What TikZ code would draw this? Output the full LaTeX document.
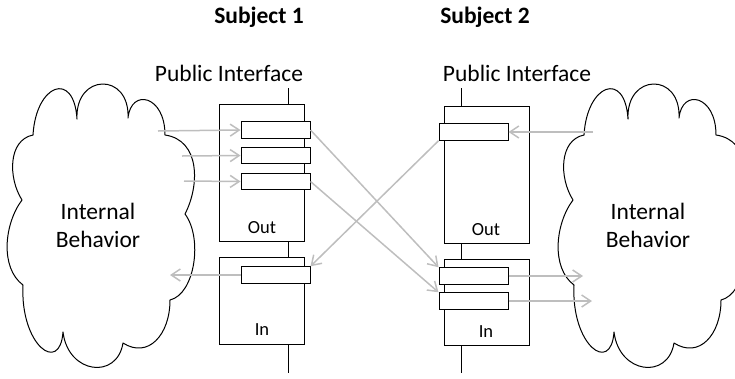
\documentclass[tikz,border=0pt]{standalone}
\usepackage{fontspec}
\setmainfont{Carlito}
\usetikzlibrary{arrows.meta}
\definecolor{flowgray}{RGB}{190,190,190}
\tikzset{
  frame/.style={draw, line width=1pt, fill=white, minimum width=85pt, inner sep=0pt},
  port/.style={draw, line width=1pt, fill=white, minimum width=69pt, minimum height=16.5pt, inner sep=0pt},
  flow/.style={draw=flowgray, line width=1.5pt, -{Straight Barb[length=9pt,width=12pt]}},
  wire/.style={draw, line width=1pt},
  cloudline/.style={draw, line width=1pt, line join=round},
  bigtext/.style={font=\fontsize{23.5}{28}\selectfont, align=center, inner sep=0pt},
  smalltext/.style={font=\fontsize{18.5}{22}\selectfont, inner sep=0pt},
  titletext/.style={font=\fontsize{23.5}{28}\selectfont\bfseries, inner sep=0pt},
  % ten-bump cloud outline, drawn clockwise from its upper-left dent
  behaviorcloud/.pic={
    \draw[cloudline]
      (33,135) .. controls (36,84) and (74,70) .. (77,119)
      .. controls (75,73) and (130,72) .. (128,118)
      .. controls (131,88) and (165,95) .. (165,135)
      .. controls (200,140) and (200,185) .. (185,214)
      .. controls (203,238) and (195,294) .. (170,300)
      .. controls (170,335) and (148,359) .. (123,343)
      .. controls (117,380) and (68,374) .. (63,332)
      .. controls (60,375) and (20,345) .. (23,285)
      .. controls (0,268) and (4,224) .. (22,200)
      .. controls (8,178) and (8,140) .. (33,135) -- cycle;
  }
}
\begin{document}
\begin{tikzpicture}[x=1pt, y=-1pt]
\clip (0,0) rectangle (735,378);

% titles and interface labels
\node[titletext, anchor=base] (t1) at (259,23) {Subject 1};
\node[titletext, anchor=base] (t2) at (485,23) {Subject 2};
\node[bigtext, anchor=base] (pi1) at (229,81) {Public Interface};
\node[bigtext, anchor=base] (pi2) at (517,81) {Public Interface};

% internal behaviour clouds
\pic at (0,0) {behaviorcloud};
\pic at (551,0) {behaviorcloud};
\node[bigtext] (ib1) at (98,225) {Internal\\Behavior};
\node[bigtext] (ib2) at (648,225) {Internal\\Behavior};

% interface spines
\coordinate (s1t) at (288,88);
\coordinate (s1b) at (288,373);
\coordinate (s2t) at (461,88);
\coordinate (s2b) at (461,373);
\draw[wire] (s1t) -- (s1b);
\draw[wire] (s2t) -- (s2b);

% subject 1 frames
\node[frame, minimum height=137pt] (o1) at (261.5,172.5) {};
\node[frame, minimum height=87pt] (i1) at (261.5,300.5) {};
\node[smalltext] (lo1) at (262,228) {Out};
\node[smalltext] (li1) at (262,330) {In};
\node[port] (p11) at (275.5,130) {};
\node[port] (p12) at (275.5,155.5) {};
\node[port] (p13) at (275.5,181.5) {};
\node[port] (p14) at (275.5,275) {};

% subject 2 frames
\node[frame, minimum height=137pt] (o2) at (486.5,174.5) {};
\node[frame, minimum height=86pt] (i2) at (486.5,302) {};
\node[smalltext] (lo2) at (486,230) {Out};
\node[smalltext] (li2) at (486,332) {In};
\node[port] (p21) at (473.5,132) {};
\node[port] (p23) at (473.5,276) {};
\node[port] (p24) at (473.5,301) {};

% flows inside subject 1
\coordinate (a1) at (158,131);
\coordinate (a2) at (182,156);
\coordinate (a3) at (184,181);
\coordinate (a4) at (170,275);
\draw[flow] (a1) -- (p11.west);
\draw[flow] (a2) -- (p12.west);
\draw[flow] (a3) -- (p13.west);
\draw[flow] (p14.west) -- (a4);

% flows inside subject 2
\coordinate (b1) at (593,132);
\coordinate (b3) at (583,276);
\coordinate (b4) at (592,301);
\draw[flow] (b1) -- (p21.east);
\draw[flow] (p23.east) -- (b3);
\draw[flow] (p24.east) -- (b4);

% exchanges between the subjects
\draw[flow] (p11.east) -- (p23.north west);
\draw[flow] (p13.east) -- (p24.north west);
\draw[flow] (p21.south west) -- (p14.north east);
\end{tikzpicture}
\end{document}
